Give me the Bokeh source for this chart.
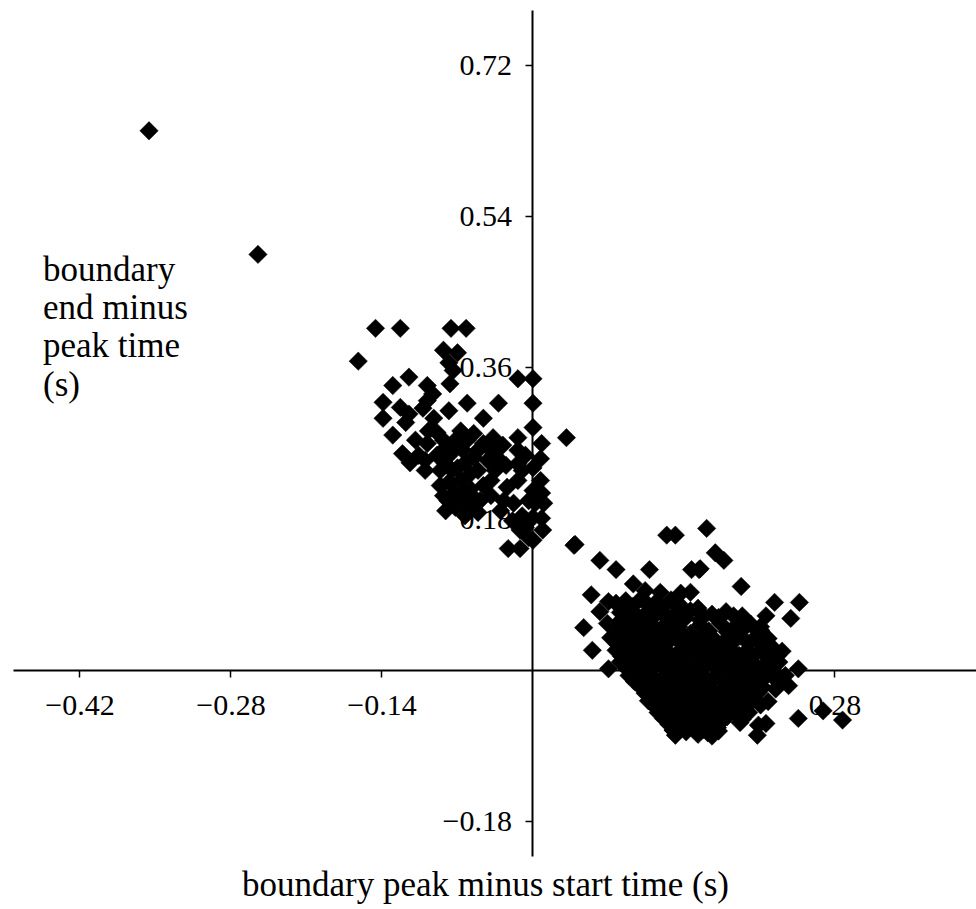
import numpy as np
from bokeh.plotting import figure
from bokeh.models import Range1d, LinearAxis, FixedTicker, CustomJSTickFormatter, Label
from bokeh.embed import file_html
from bokeh.resources import INLINE

# ---- data (seconds): x = boundary peak minus start, y = boundary end minus peak ----
outlier_x = [-0.356, -0.255]
outlier_y = [0.642, 0.495]

group_a_x = [-0.146, -0.123, -0.076, -0.062, -0.162, -0.083, -0.070, -0.078, -0.074, -0.077,
             -0.115, -0.130, -0.098, -0.093, -0.139, -0.123, -0.115, -0.118, -0.139, -0.130,
             -0.098, -0.102, -0.092, -0.078, -0.061, -0.046, -0.032, -0.014, 0.000, 0.000,
             0.000, 0.031, -0.121, -0.114, -0.098, -0.100, -0.100, -0.083, -0.076, -0.081,
             -0.070, -0.061, -0.055, -0.046, -0.037, -0.033, -0.042, -0.055, -0.058, -0.078,
             -0.072, -0.079, -0.064, -0.055, -0.072, -0.058, -0.049, -0.024, -0.014, -0.027,
             -0.018, -0.014, -0.014, -0.014, 0.008, 0.007, 0.000, 0.000, 0.008, 0.002,
             0.010, 0.000, 0.008, -0.007, -0.004, -0.023, -0.012, 0.000, 0.038, -0.030,
             -0.067, -0.086, -0.063, -0.051, -0.089, -0.051, -0.083, -0.081, -0.039, -0.067,
             -0.089, -0.081, -0.072, -0.065, -0.075, -0.063, -0.051, -0.039, -0.028, -0.025,
             -0.035, -0.046, -0.058, -0.069, -0.086, -0.063, -0.039, -0.010, -0.007, -0.004,
             -0.010, -0.019, -0.012, 0.007, 0.009, -0.097, -0.106, -0.109]
group_a_y = [0.407, 0.407, 0.407, 0.407, 0.368, 0.381, 0.378, 0.366, 0.357, 0.341,
             0.349, 0.339, 0.339, 0.329, 0.319, 0.313, 0.305, 0.295, 0.300, 0.280,
             0.321, 0.312, 0.300, 0.309, 0.318, 0.300, 0.318, 0.347, 0.347, 0.318,
             0.289, 0.277, 0.258, 0.247, 0.270, 0.250, 0.238, 0.274, 0.258, 0.246,
             0.241, 0.274, 0.282, 0.270, 0.277, 0.253, 0.250, 0.253, 0.234, 0.224,
             0.211, 0.202, 0.212, 0.206, 0.194, 0.194, 0.202, 0.218, 0.226, 0.202,
             0.199, 0.277, 0.262, 0.246, 0.270, 0.252, 0.241, 0.214, 0.211, 0.199,
             0.199, 0.182, 0.181, 0.170, 0.158, 0.145, 0.145, 0.155, 0.149, 0.190,
             0.226, 0.238, 0.184, 0.188, 0.256, 0.238, 0.208, 0.190, 0.226, 0.285,
             0.283, 0.265, 0.274, 0.262, 0.238, 0.247, 0.262, 0.262, 0.268, 0.244,
             0.238, 0.220, 0.216, 0.202, 0.220, 0.196, 0.208, 0.238, 0.256, 0.202,
             0.184, 0.178, 0.167, 0.226, 0.167, 0.285, 0.256, 0.274]

# ---- lower-right group, outer points ----
group_b_edge_x = [0.039, 0.062, 0.077, 0.108, 0.124, 0.132, 0.161, 0.169, 0.177, 0.147,
                  0.154, 0.193, 0.054, 0.070, 0.077, 0.062, 0.093, 0.047, 0.069, 0.137,
                  0.146, 0.153, 0.055, 0.070, 0.224, 0.247, 0.239, 0.216, 0.186, 0.194,
                  0.155, 0.155, 0.246, 0.237, 0.227, 0.246, 0.269, 0.287, 0.209, 0.216,
                  0.208, 0.130, 0.140, 0.162, 0.171, 0.211, 0.220, 0.104, 0.118]
group_b_edge_y = [0.150, 0.131, 0.120, 0.120, 0.161, 0.161, 0.169, 0.140, 0.131, 0.120,
                  0.120, 0.100, 0.090, 0.082, 0.080, 0.070, 0.103, 0.051, 0.056, 0.092,
                  0.093, 0.074, 0.024, 0.002, 0.081, 0.081, 0.062, 0.065, 0.065, 0.065,
                  0.069, 0.121, 0.002, -0.018, -0.006, -0.057, -0.048, -0.059, -0.065, -0.063,
                  -0.077, -0.071, -0.063, -0.074, -0.068, 0.048, 0.030, 0.095, 0.093]

# ---- lower-right group, dense core ----
group_b_core_x = [0.086, 0.100, 0.114, 0.128,
                  0.081, 0.092, 0.104, 0.118, 0.132, 0.146, 0.166, 0.179,
                  0.077, 0.089, 0.100, 0.111, 0.123, 0.135, 0.155, 0.174, 0.188, 0.202, 0.211,
                  0.072, 0.083, 0.095, 0.107, 0.118, 0.129, 0.141, 0.155, 0.166, 0.179, 0.192, 0.206, 0.218,
                  0.077, 0.089, 0.100, 0.111, 0.123, 0.135, 0.146, 0.160, 0.172, 0.183, 0.197, 0.211, 0.222, 0.231,
                  0.081, 0.092, 0.104, 0.116, 0.128, 0.140, 0.151, 0.165, 0.176, 0.188, 0.202, 0.216, 0.228,
                  0.089, 0.100, 0.111, 0.123, 0.135, 0.146, 0.155, 0.169, 0.181, 0.192, 0.204, 0.218, 0.234,
                  0.100, 0.111, 0.120, 0.132, 0.144, 0.155, 0.166, 0.179, 0.191, 0.202, 0.213, 0.225,
                  0.107, 0.118, 0.129, 0.141, 0.155, 0.166, 0.179, 0.192, 0.204, 0.218,
                  0.116, 0.128, 0.139, 0.151, 0.163, 0.174, 0.188, 0.200,
                  0.126, 0.137, 0.148, 0.160, 0.172, 0.192,
                  0.132, 0.153, 0.166]
group_b_core_y = [0.083, 0.085, 0.081, 0.084,
                  0.069, 0.071, 0.067, 0.070, 0.068, 0.071, 0.067, 0.070,
                  0.054, 0.052, 0.056, 0.053, 0.055, 0.052, 0.054, 0.056, 0.053, 0.055, 0.052,
                  0.039, 0.041, 0.038, 0.040, 0.037, 0.041, 0.039, 0.038, 0.040, 0.037, 0.041, 0.039, 0.038,
                  0.024, 0.022, 0.026, 0.023, 0.025, 0.022, 0.024, 0.026, 0.023, 0.025, 0.022, 0.024, 0.026, 0.023,
                  0.010, 0.008, 0.011, 0.009, 0.012, 0.010, 0.008, 0.011, 0.009, 0.010, 0.012, 0.008, 0.010,
                  -0.006, -0.004, -0.007, -0.005, -0.008, -0.006, -0.004, -0.007, -0.005, -0.006, -0.008, -0.004, -0.006,
                  -0.020, -0.022, -0.019, -0.021, -0.020, -0.018, -0.022, -0.020, -0.019, -0.021, -0.020, -0.022,
                  -0.036, -0.034, -0.037, -0.035, -0.036, -0.038, -0.035, -0.036, -0.034, -0.037,
                  -0.050, -0.052, -0.049, -0.051, -0.050, -0.048, -0.051, -0.050,
                  -0.064, -0.066, -0.063, -0.065, -0.064, -0.062,
                  -0.077, -0.076, -0.078]

# ---- lower-right group, points between the core rows ----
group_b_fill_x = [0.092, 0.107, 0.120, 0.137,
                  0.087, 0.098, 0.111, 0.126, 0.141, 0.155, 0.172,
                  0.081, 0.094, 0.105, 0.116, 0.128, 0.146, 0.163, 0.180, 0.194,
                  0.078, 0.089, 0.101, 0.113, 0.124, 0.136, 0.148, 0.161, 0.172, 0.185, 0.200, 0.213,
                  0.082, 0.094, 0.105, 0.117, 0.128, 0.140, 0.153, 0.166, 0.178, 0.191, 0.204, 0.217, 0.227,
                  0.087, 0.098, 0.110, 0.122, 0.133, 0.145, 0.158, 0.170, 0.182, 0.196, 0.209, 0.222,
                  0.094, 0.105, 0.116, 0.128, 0.140, 0.151, 0.163, 0.176, 0.187, 0.198, 0.211, 0.226,
                  0.104, 0.115, 0.127, 0.138, 0.150, 0.161, 0.173, 0.185, 0.197, 0.209,
                  0.113, 0.124, 0.135, 0.148, 0.161, 0.173, 0.186, 0.198, 0.211,
                  0.121, 0.133, 0.144, 0.156, 0.168, 0.180, 0.194,
                  0.130, 0.142, 0.158, 0.172]
group_b_fill_y = [0.076, 0.078, 0.075, 0.077,
                  0.062, 0.060, 0.063, 0.061, 0.062, 0.060, 0.063,
                  0.046, 0.048, 0.045, 0.047, 0.046, 0.044, 0.047, 0.046, 0.048,
                  0.032, 0.030, 0.033, 0.031, 0.032, 0.034, 0.031, 0.032, 0.030, 0.033, 0.032, 0.031,
                  0.017, 0.015, 0.018, 0.016, 0.017, 0.019, 0.016, 0.017, 0.015, 0.018, 0.017, 0.016, 0.018,
                  0.002, 0.004, 0.001, 0.003, 0.002, 0.000, 0.003, 0.002, 0.004, 0.001, 0.002, 0.003,
                  -0.013, -0.011, -0.014, -0.012, -0.013, -0.015, -0.012, -0.013, -0.011, -0.014, -0.013, -0.012,
                  -0.027, -0.029, -0.026, -0.028, -0.027, -0.025, -0.028, -0.027, -0.029, -0.026,
                  -0.043, -0.041, -0.044, -0.042, -0.043, -0.045, -0.042, -0.043, -0.041,
                  -0.057, -0.059, -0.056, -0.058, -0.057, -0.055, -0.058,
                  -0.071, -0.073, -0.070, -0.072]

x_ticks = [-0.42, -0.28, -0.14, 0.14, 0.28]
y_ticks = [-0.18, 0.18, 0.36, 0.54, 0.72]

x_label = "boundary peak minus start time (s)"
y_label = "boundary\nend minus\npeak time\n(s)"

all_x = outlier_x + group_a_x + group_b_edge_x + group_b_core_x + group_b_fill_x
all_y = outlier_y + group_a_y + group_b_edge_y + group_b_core_y + group_b_fill_y

FONT = "Liberation Serif"

p = figure(width=976, height=909, output_backend="svg", toolbar_location=None,
           x_range=Range1d(-0.4937, 0.4112), y_range=Range1d(-0.2843, 0.797),
           x_axis_location=None, y_axis_location=None,
           min_border_left=0, min_border_right=0, min_border_top=0, min_border_bottom=0)
p.outline_line_color = None
p.background_fill_color = "white"
p.border_fill_color = "white"
p.xgrid.visible = False
p.ygrid.visible = False

fmt = CustomJSTickFormatter(code="return (tick < 0 ? '\\u2212' : '') + Math.abs(tick).toFixed(2);")

def style(ax):
    ax.level = "underlay"
    ax.axis_line_color = "black"
    ax.axis_line_width = 2
    ax.major_tick_line_color = "black"
    ax.major_tick_line_width = 1.5
    ax.major_tick_out = 7
    ax.major_tick_in = 0
    ax.minor_tick_line_color = None
    ax.major_label_text_font = FONT
    ax.major_label_text_font_size = "30px"
    ax.major_label_text_color = "black"

xaxis = LinearAxis(fixed_location=0, ticker=FixedTicker(ticks=x_ticks), formatter=fmt,
                   bounds=(-0.4821, 0.4112))
style(xaxis)
xaxis.major_label_standoff = 18
p.add_layout(xaxis, "below")
yaxis = LinearAxis(fixed_location=0, ticker=FixedTicker(ticks=y_ticks), formatter=fmt,
                   bounds=(-0.2212, 0.785))
style(yaxis)
yaxis.major_label_standoff = 14
p.add_layout(yaxis, "left")

p.scatter(all_x, all_y, marker="square", angle=np.pi / 4, size=13,
          fill_color="black", line_color="black", line_width=0.5)

p.add_layout(Label(x=-0.044, y=-0.2546, text=x_label, text_align="center",
                   text_baseline="alphabetic", text_font=FONT, text_font_size="35px",
                   text_color="black"))
y_label_baselines = [0.4776, 0.4320, 0.3863, 0.3408]
for line, yb in zip(y_label.split("\n"), y_label_baselines):
    p.add_layout(Label(x=-0.4543, y=yb, text=line, text_align="left",
                       text_baseline="alphabetic", text_font=FONT, text_font_size="35px",
                       text_color="black"))

open("out.html", "w").write(file_html(p, INLINE))
